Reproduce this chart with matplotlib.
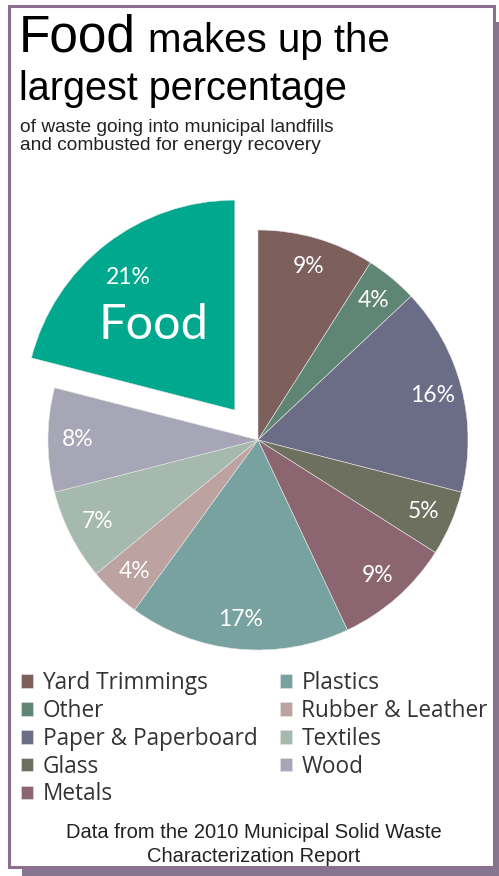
import matplotlib.pyplot as plt
from matplotlib.patches import Rectangle
import numpy as np

# slices, clockwise from 12 o'clock
categories = ['Yard Trimmings', 'Other', 'Paper & Paperboard', 'Glass', 'Metals',
              'Plastics', 'Rubber & Leather', 'Textiles', 'Wood', 'Food']
shares = [9, 4, 16, 5, 9, 17, 4, 7, 8, 21]
colors = ['#7d5f5c', '#5f8575', '#6b6c86', '#6e705f', '#8b6570',
          '#77a29f', '#bca2a1', '#a5b9ae', '#a7a6b7', '#00a98e']
explode = [0, 0, 0, 0, 0, 0, 0, 0, 0, 0.18]

W, H = 499, 876
fig = plt.figure(figsize=(W / 100, H / 100), dpi=100)


def fx(x):
    return x / W


def fy(y):
    # pixel row from the top -> figure fraction
    return 1 - y / H


# drop shadow and framed white card
fig.patches.append(Rectangle((fx(22), -0.01), 1.0, fy(22) + 0.01, transform=fig.transFigure,
                             facecolor='#85758f', edgecolor='none', zorder=-2))
fig.patches.append(Rectangle((fx(9), fy(867)), fx(494) - fx(9), fy(6) - fy(867),
                             transform=fig.transFigure, facecolor='white',
                             edgecolor='#8c6f8e', linewidth=2.2, zorder=-1))

# title block
fig.text(fx(19), fy(52), 'Food', fontsize=37, family='Liberation Sans', va='baseline')
fig.text(fx(148), fy(52), 'makes up the', fontsize=29, family='Liberation Sans', va='baseline')
fig.text(fx(19), fy(100), 'largest percentage', fontsize=28.5, family='Liberation Sans', va='baseline')
fig.text(fx(20), fy(132), 'of waste going into municipal landfills', fontsize=13.8,
         family='Liberation Sans', va='baseline', color='#222222')
fig.text(fx(20), fy(150), 'and combusted for energy recovery', fontsize=13.8,
         family='Liberation Sans', va='baseline', color='#222222')

# pie
R = 210
cx, cy = 258, 440
lim = 1.2
ax = fig.add_axes([fx(cx - lim * R), fy(cy + lim * R), 2 * lim * R / W, 2 * lim * R / H])
wedges, texts, autotexts = ax.pie(shares, colors=colors, explode=explode, startangle=90,
                                  counterclock=False, autopct='%d%%', pctdistance=0.86,
                                  wedgeprops=dict(edgecolor='#e6e6e6', linewidth=0.4),
                                  textprops=dict(color='white', fontsize=16.5, family='Lato'))
ax.set_xlim(-lim, lim)
ax.set_ylim(-lim, lim)
ax.axis('off')

# food wedge: percentage and name inside the pulled-out slice
food = wedges[-1]
mid = np.deg2rad((food.theta1 + food.theta2) / 2)
ox, oy = food.center
a1 = mid + np.deg2rad(1)
autotexts[-1].set_position((ox + 0.81 * np.cos(a1), oy + 0.81 * np.sin(a1)))
a2 = mid + np.deg2rad(6)
ax.text(ox + 0.56 * np.cos(a2), oy + 0.56 * np.sin(a2), 'Food', color='white',
        fontsize=35, family='Lato', ha='center', va='center')

# legend (food left out)
fig.legend(wedges[:-1], categories[:-1], ncol=2, loc='upper left',
           bbox_to_anchor=(fx(21), fy(671)), frameon=False,
           prop=dict(family='Open Sans', size=16.3), handlelength=0.55, handleheight=0.55,
           handletextpad=0.4, labelspacing=0.17, columnspacing=1.0,
           borderpad=0, borderaxespad=0, labelcolor='#333333')

fig.text(fx(254), fy(833), 'Data from the 2010 Municipal Solid Waste', fontsize=14.5,
         family='Liberation Sans', ha='center', va='center', color='#222222')
fig.text(fx(254), fy(856), 'Characterization Report', fontsize=14.5,
         family='Liberation Sans', ha='center', va='center', color='#222222')

fig.savefig('out.png', dpi=100)
